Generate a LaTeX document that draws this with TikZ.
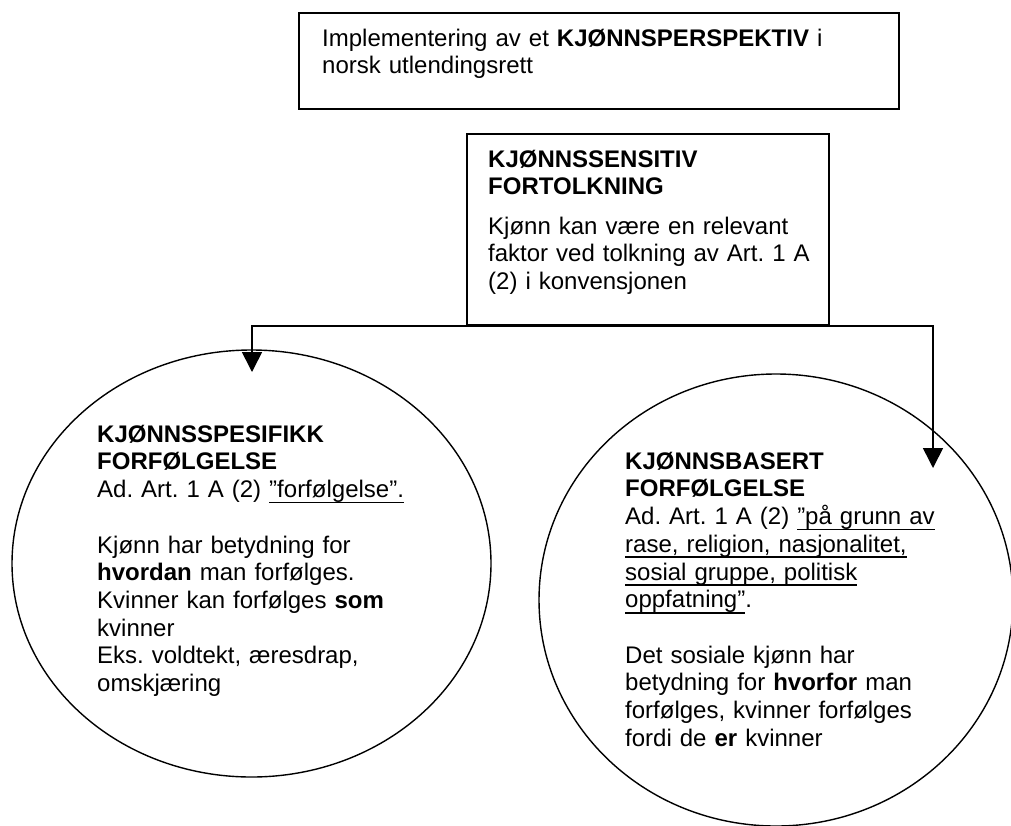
\documentclass[tikz,border=0pt]{standalone}
\usepackage{fontspec}
\setmainfont{Liberation Sans}
\usetikzlibrary{shapes.geometric,arrows.meta}
\frenchspacing
\newcommand\myul[1]{\leavevmode\setbox0\hbox{#1}\rlap{\rule[-5.8pt]{\wd0}{1.8pt}}\box0}
\newcommand\fstrut{\leavevmode\rule{0pt}{20pt}}
\begin{document}
\begin{tikzpicture}[x=1pt,y=-1pt,
  txt/.style={anchor=north west, inner sep=0pt, text width=600pt, align=left,
    font=\fontsize{24}{27.7}\selectfont},
  boxs/.style={draw, line width=1.6pt, inner sep=0pt, rectangle},
  ell/.style={draw, ellipse, line width=1.4pt, inner sep=0pt},
  conn/.style={line width=1.6pt, -{Triangle[length=20pt,width=20pt]}}]
\useasboundingbox (0,0) rectangle (1011,825);
\fill[white] (0,0) rectangle (1011,825);

% boxes
\node[boxs, minimum width=600pt, minimum height=96pt] (top) at (599,61) {};
\node[boxs, minimum width=362pt, minimum height=191pt] (mid) at (648,229.5) {};

% ellipses
\node[ell, minimum width=479pt, minimum height=427pt] (left) at (251.5,563.5) {};
\node[ell, minimum width=474pt, minimum height=452pt] (right) at (776,600) {};

% texts
\node[txt] (toptxt) at (322,26) {\fstrut Implementering av et \textbf{KJØNNSPERSPEKTIV} i\\ norsk utlendingsrett};
\node[txt] (midtxt) at (488,147) {\fstrut\textbf{KJØNNSSENSITIV}\\ \textbf{FORTOLKNING}\\[11.5pt] Kjønn kan være en relevant\\ faktor ved tolkning av Art. 1 A\\ (2) i konvensjonen};
\node[txt] (lefttxt) at (97,422) {\fstrut\textbf{KJØNNSSPESIFIKK}\\ \textbf{FORFØLGELSE}\\ Ad. Art. 1 A (2) \myul{”forfølgelse”.}\\[27.7pt] Kjønn har betydning for\\ \textbf{hvordan} man forfølges.\\ Kvinner kan forfølges \textbf{som}\\ kvinner\\ Eks. voldtekt, æresdrap,\\ omskjæring};
\node[txt] (righttxt) at (625,449) {\fstrut\textbf{KJØNNSBASERT}\\ \textbf{FORFØLGELSE}\\ Ad. Art. 1 A (2) \myul{”på grunn av}\\ \myul{rase, religion, nasjonalitet,}\\ \myul{sosial gruppe, politisk}\\ \myul{oppfatning”}.\\[27.7pt] Det sosiale kjønn har\\ betydning for \textbf{hvorfor} man\\ forfølges, kvinner forfølges\\ fordi de \textbf{er} kvinner};

% connectors
\coordinate (ltip) at (252,372);
\coordinate (rtip) at (933,468);
\draw[conn] (mid.south) -| (ltip);
\draw[conn] (mid.south) -| (rtip);
\end{tikzpicture}
\end{document}
